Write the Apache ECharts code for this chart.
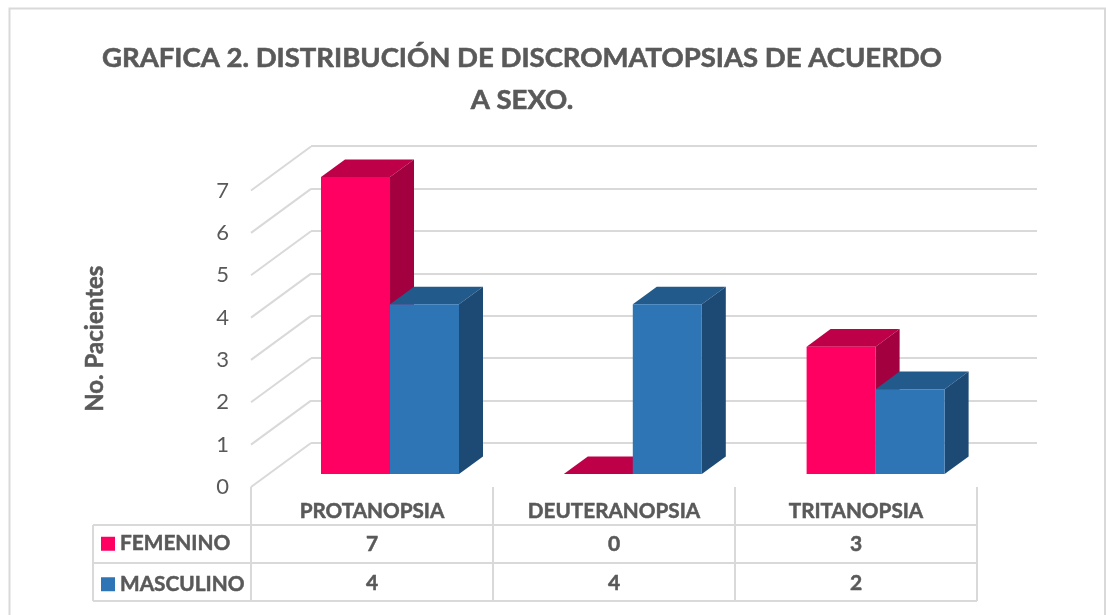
<!DOCTYPE html>
<html>
<head>
    <meta charset="utf-8">
    <title></title>
    <script src="https://cdn.jsdelivr.net/npm/echarts@6/dist/echarts.min.js"></script>
    <style type="text/css">
        html, body { margin: 0; padding: 0; background: #fff; }
        #grafica { width: 1106px; height: 615px; }
    </style>
</head>
<body>
    <div id="grafica"></div>
    <script type="text/javascript">
        var categorias = ['PROTANOPSIA', 'DEUTERANOPSIA', 'TRITANOPSIA'];
        var femenino = [7, 0, 3];
        var masculino = [4, 4, 2];

        var myChart = echarts.init(document.getElementById('grafica'));
        var gris = '#595959';
        var linea = '#d9d9d9';
        var fuente = 'Lato';

        // cara frontal + superior + lateral de cada barra
        function barra3d(lado, frente, arriba, costado) {
            return function (params, api) {
                var i = api.value(0);
                var base = api.coord([i, 0]);
                var tope = api.coord([i, api.value(1)]);
                var x0 = base[0] + (lado < 0 ? -69 : 0);
                var x1 = x0 + 69;
                var dx = 24, dy = 17.6;
                var y0 = base[1], y1 = tope[1];
                return {
                    type: 'group',
                    children: [
                        { type: 'polygon', shape: { points: [[x0, y1], [x1, y1], [x1 + dx, y1 - dy], [x0 + dx, y1 - dy]] }, style: { fill: arriba } },
                        { type: 'polygon', shape: { points: [[x1, y0], [x1, y1], [x1 + dx, y1 - dy], [x1 + dx, y0 - dy]] }, style: { fill: costado } },
                        { type: 'rect', shape: { x: x0, y: y1, width: 69, height: y0 - y1 }, style: { fill: frente } }
                    ]
                };
            };
        }

        // diagonales del piso/pared izquierda, una por marca del eje
        function diagonales(params, api) {
            var p = api.coord([0, api.value(0)]);
            var x = params.coordSys.x;
            return {
                type: 'line',
                shape: { x1: x, y1: p[1], x2: x + 60, y2: p[1] - 44 },
                style: { stroke: linea, lineWidth: 2 }
            };
        }

        // valores de la tabla bajo el eje
        function celdas(params, api) {
            var i = api.value(0);
            var x = api.coord([i, 0])[0];
            var estilo = { fill: gris, stroke: gris, lineWidth: 0.5, font: 'bold 21px ' + fuente, align: 'center', verticalAlign: 'middle' };
            return {
                type: 'group',
                children: [
                    { type: 'text', style: Object.assign({ x: x, y: 544, text: String(femenino[i]) }, estilo) },
                    { type: 'text', style: Object.assign({ x: x, y: 583, text: String(masculino[i]) }, estilo) }
                ]
            };
        }

        var lineasTabla = [
            [93, 525, 977, 525], [93, 563, 977, 563], [93, 601, 977, 601],
            [93, 525, 93, 601], [251, 487, 251, 601], [493, 487, 493, 601],
            [735, 487, 735, 601], [977, 487, 977, 601]
        ];

        var option = {
            animation: false,
            backgroundColor: '#fff',
            title: {
                text: 'GRAFICA 2. DISTRIBUCIÓN DE DISCROMATOPSIAS DE ACUERDO\nA SEXO.',
                left: 517,
                top: 32,
                textAlign: 'center',
                textStyle: { color: gris, fontFamily: fuente, fontWeight: 'bold', fontSize: 27.5, lineHeight: 42, textBorderColor: gris, textBorderWidth: 0.6 }
            },
            legend: {
                orient: 'vertical',
                left: 101,
                top: 533,
                padding: 0,
                itemWidth: 14,
                itemHeight: 14,
                itemGap: 19,
                icon: 'rect',
                data: ['FEMENINO', 'MASCULINO'],
                textStyle: { color: gris, fontFamily: fuente, fontWeight: 'bold', fontSize: 20.8, lineHeight: 20, textBorderColor: gris, textBorderWidth: 0.5 }
            },
            grid: [
                { left: 251, top: 190.5, width: 726, height: 296.5 },
                { left: 268.6, top: 177, width: 728.4, height: 297 },
                { left: 311, top: 146, width: 726, height: 297 }
            ],
            xAxis: [
                {
                    gridIndex: 0, type: 'category', data: categorias,
                    axisLine: { show: false }, axisTick: { show: false },
                    axisLabel: { color: gris, fontFamily: fuente, fontWeight: 'bold', fontSize: 20.7, margin: 14, textBorderColor: gris, textBorderWidth: 0.5 }
                },
                { gridIndex: 1, type: 'category', data: categorias, show: false },
                { gridIndex: 2, type: 'category', data: categorias, show: false }
            ],
            yAxis: [
                {
                    gridIndex: 0, type: 'value', min: 0, max: 7, interval: 1,
                    name: 'No. Pacientes',
                    nameLocation: 'middle',
                    nameGap: 144,
                    nameTextStyle: { color: gris, fontFamily: fuente, fontWeight: 'bold', fontSize: 24, textBorderColor: gris, textBorderWidth: 0.5 },
                    axisLine: { show: false }, axisTick: { show: false }, splitLine: { show: false },
                    axisLabel: { color: gris, fontFamily: fuente, fontSize: 22, margin: 22, padding: [4, 0, 0, 0] }
                },
                { gridIndex: 1, type: 'value', min: 0, max: 7, interval: 1, show: false, splitLine: { show: false } },
                {
                    gridIndex: 2, type: 'value', min: 0, max: 7, interval: 1,
                    axisLine: { show: false }, axisTick: { show: false }, axisLabel: { show: false },
                    splitLine: { show: true, lineStyle: { color: linea, width: 2 } }
                }
            ],
            series: [
                {
                    type: 'custom', xAxisIndex: 0, yAxisIndex: 0, silent: true, z: 1,
                    data: [0, 1, 2, 3, 4, 5, 6, 7].map(function (t) { return [t]; }),
                    encode: { y: 0 },
                    renderItem: diagonales
                },
                {
                    name: 'FEMENINO', type: 'custom', xAxisIndex: 1, yAxisIndex: 1, z: 3,
                    itemStyle: { color: '#ff0062' },
                    data: femenino.map(function (v, i) { return [i, v]; }),
                    encode: { x: 0, y: 1 },
                    renderItem: barra3d(-1, '#ff0062', '#be0048', '#a3003f')
                },
                {
                    name: 'MASCULINO', type: 'custom', xAxisIndex: 1, yAxisIndex: 1, z: 4,
                    itemStyle: { color: '#2e75b6' },
                    data: masculino.map(function (v, i) { return [i, v]; }),
                    encode: { x: 0, y: 1 },
                    renderItem: barra3d(1, '#2e75b6', '#225a8b', '#1c4a75')
                },
                {
                    type: 'custom', xAxisIndex: 0, yAxisIndex: 0, silent: true, z: 5,
                    data: categorias.map(function (c, i) { return [i]; }),
                    encode: { x: 0 },
                    renderItem: celdas
                }
            ],
            graphic: [
                {
                    type: 'polyline', silent: true, z: -1,
                    shape: { points: [[9.5, 620], [9.5, 8.5], [1105, 8.5], [1105, 620]] },
                    style: { stroke: linea, lineWidth: 2, fill: null }
                }
            ].concat(lineasTabla.map(function (l) {
                return {
                    type: 'line', silent: true, z: -1,
                    shape: { x1: l[0], y1: l[1], x2: l[2], y2: l[3] },
                    style: { stroke: linea, lineWidth: 2 }
                };
            }))
        };
        myChart.setOption(option);
    </script>
</body>
</html>
